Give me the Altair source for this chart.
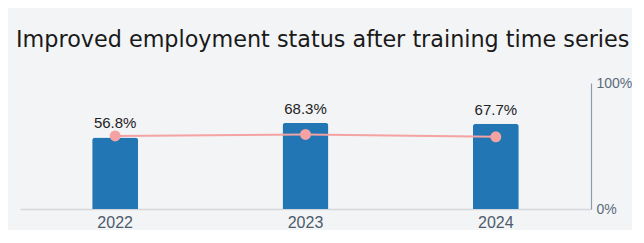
import altair as alt
import pandas as pd

years = ["2022", "2023", "2024"]
bar_values = [56.8, 68.3, 67.7]
line_values = [58.0, 59.2, 57.3]
bar_labels = ["56.8%", "68.3%", "67.7%"]

df = pd.DataFrame({"year": years, "value": bar_values, "line": line_values, "label": bar_labels})

x = alt.X("year:N", title=None, sort=years,
          scale=alt.Scale(paddingInner=0, paddingOuter=0),
          axis=alt.Axis(labelAngle=0, labelFontSize=16, labelColor="#4b5b6b", labelFont="Liberation Sans",
                        domainColor="#d3d7dc", domainWidth=1.5, ticks=False, labelPadding=5))
y_scale = alt.Scale(domain=[0, 100])

bars = alt.Chart(df).mark_bar(size=46, color="#2176b3", cornerRadiusTopLeft=3, cornerRadiusTopRight=3).encode(
    x=x,
    y=alt.Y("value:Q", scale=y_scale, title=None,
            axis=alt.Axis(orient="right", values=[0, 100], labelExpr="datum.value + '%'", grid=False,
                          ticks=False, domainColor="#8d9cab", domainWidth=1.2, labelColor="#5b6b7b",
                          labelFontSize=14, labelFont="Liberation Sans", labelPadding=5)),
)

texts = alt.Chart(df).mark_text(dy=-14, fontSize=15, font="Liberation Sans", color="#222222").encode(
    x=x, y=alt.Y("value:Q", scale=y_scale), text="label:N"
)

line = alt.Chart(df).mark_line(color="#f4a2a2", strokeWidth=2).encode(
    x=x, y=alt.Y("line:Q", scale=y_scale)
)
pts = alt.Chart(df).mark_point(filled=True, color="#f4a2a2", size=120, opacity=1).encode(
    x=x, y=alt.Y("line:Q", scale=y_scale)
)

chart = alt.layer(bars, texts, line, pts).properties(
    width=571, height=126,
    background="#f3f4f6",
    padding={"left": 8, "top": 20, "right": 0, "bottom": 0},
    title=alt.TitleParams("Improved employment status after training time series", anchor="start",
                          fontSize=22.3, font="DejaVu Sans", fontWeight="normal", color="#1a1a1a",
                          dx=-4, offset=25),
).configure_view(stroke=None)

chart.save("out.html", embed_options={"renderer": "svg", "actions": False})
